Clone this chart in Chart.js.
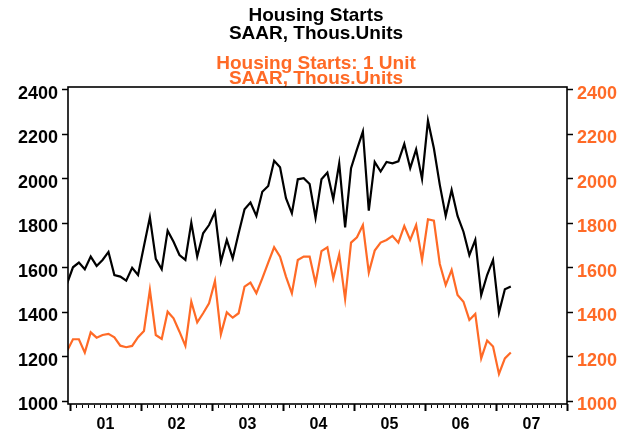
<!DOCTYPE html>
<html>
<head>
<meta charset="utf-8">
<script src="https://cdn.jsdelivr.net/npm/chart.js@4.4.1/dist/chart.umd.min.js"></script>
<style>
  html, body { margin: 0; padding: 0; background: #fff; }
  #wrap { width: 628px; height: 432px; }
</style>
</head>
<body>
<div id="wrap"><canvas id="chart" width="628" height="432"></canvas></div>
<script>
// monthly, Dec 2000 .. Mar 2007 (first point sits just left of the frame)
const firstYear = 2000, firstMonth = 12;

const totalStarts = [
  1528,
  1602, 1623, 1593, 1650, 1608, 1635, 1671, 1567, 1560, 1542, 1600, 1567,
  1698, 1827, 1640, 1593, 1767, 1717, 1657, 1635, 1803, 1650, 1755, 1792,
  1851, 1627, 1725, 1642, 1755, 1863, 1893, 1833, 1942, 1968, 2081, 2052,
  1913, 1845, 1998, 2003, 1977, 1825, 1998, 2028, 1908, 2070, 1782, 2048,
  2133, 2213, 1857, 2076, 2033, 2076, 2070, 2079, 2157, 2048, 2133, 2000,
  2262, 2138, 1973, 1833, 1950, 1833, 1762, 1657, 1725, 1477, 1567, 1635,
  1398, 1503, 1515
];

const singleUnit = [
  1225,
  1278, 1278, 1218, 1309, 1285, 1297, 1302, 1287, 1249, 1242, 1248, 1287,
  1315, 1500, 1297, 1279, 1402, 1372, 1312, 1248, 1447, 1354, 1395, 1440,
  1540, 1300, 1399, 1375, 1395, 1515, 1533, 1485, 1552, 1623, 1692, 1650,
  1560, 1485, 1635, 1650, 1650, 1530, 1675, 1692, 1552, 1660, 1459, 1713,
  1737, 1792, 1578, 1677, 1713, 1725, 1743, 1713, 1788, 1725, 1792, 1635,
  1818, 1812, 1617, 1522, 1590, 1477, 1447, 1365, 1392, 1192, 1272, 1245,
  1122, 1192, 1218
];

const yearLabels = ['01', '02', '03', '04', '05', '06', '07'];
const yTicks = [1000, 1200, 1400, 1600, 1800, 2000, 2200, 2400];

const BLACK = '#000000';
const ORANGE = '#ff6a26';
const FONT = '"Liberation Sans", Arial, Helvetica, sans-serif';

// x = months since Jan 2001, plotted mid-month
function monthPos(i) {
  const m = (firstYear - 2001) * 12 + (firstMonth - 1) + i;
  return m + 0.5;
}
const toPoints = arr => arr.map((v, i) => ({ x: monthPos(i), y: v }));

// title block + frame + monthly tick marks
const decor = {
  id: 'decor',
  afterDraw(chart) {
    const ctx = chart.ctx;
    const a = chart.chartArea;
    const cx = 316;
    ctx.save();
    ctx.textAlign = 'center';
    ctx.textBaseline = 'alphabetic';
    ctx.font = 'bold 19px ' + FONT;
    ctx.fillStyle = BLACK;
    ctx.fillText('Housing Starts', cx, 21);
    ctx.fillText('SAAR, Thous.Units', cx, 38.5);
    ctx.fillStyle = ORANGE;
    ctx.fillText('Housing Starts: 1 Unit', cx, 68.5);
    ctx.fillText('SAAR, Thous.Units', cx, 83.5);

    ctx.strokeStyle = BLACK;
    ctx.lineWidth = 1.6;
    ctx.strokeRect(a.left, a.top, a.right - a.left, a.bottom - a.top);

    const xs = chart.scales.x;
    for (let m = 0; m <= 84; m++) {
      const px = Math.round(xs.getPixelForValue(m)) + 0.5;
      const major = m % 12 === 0;
      ctx.lineWidth = major ? 2 : 1;
      ctx.beginPath();
      ctx.moveTo(px, a.bottom + (major ? 0 : 1));
      ctx.lineTo(px, a.bottom + (major ? 7 : 4));
      ctx.stroke();
    }
    ctx.restore();
  }
};

const yAxis = (position, color) => ({
  type: 'linear',
  position,
  min: 986.5,
  max: 2413.5,
  afterBuildTicks: s => { s.ticks = yTicks.map(v => ({ value: v })); },
  afterFit: s => { s.width = position === 'left' ? 68 : 61; },
  border: { display: false },
  grid: { drawOnChartArea: false, drawTicks: true, tickLength: 6, tickColor: BLACK, tickWidth: 1.5 },
  ticks: {
    color,
    padding: 4,
    labelOffset: 4,
    font: { family: FONT, size: 18, weight: 'bold' },
    callback: v => String(v)
  }
});

new Chart(document.getElementById('chart'), {
  type: 'line',
  data: {
    datasets: [
      {
        label: 'Housing Starts',
        data: toPoints(totalStarts),
        borderColor: BLACK,
        borderWidth: 2.2,
        pointRadius: 0,
        tension: 0,
        yAxisID: 'y',
        clip: 0
      },
      {
        label: 'Housing Starts: 1 Unit',
        data: toPoints(singleUnit),
        borderColor: ORANGE,
        borderWidth: 2.2,
        pointRadius: 0,
        tension: 0,
        yAxisID: 'y1',
        clip: 0
      }
    ]
  },
  options: {
    responsive: false,
    animation: false,
    devicePixelRatio: 1,
    layout: { padding: { top: 87, left: 0, right: 0, bottom: 0 } },
    plugins: { legend: { display: false }, tooltip: { enabled: false }, title: { display: false } },
    scales: {
      x: {
        type: 'linear',
        min: -0.34,
        max: 84,
        afterBuildTicks: s => {
          const t = [];
          for (let m = 0; m <= 84; m++) t.push({ value: m });
          s.ticks = t;
        },
        afterFit: s => { s.height = 28; },
        border: { display: false },
        grid: { display: false },
        ticks: {
          autoSkip: false,
          maxRotation: 0,
          padding: 3,
          color: BLACK,
          font: { family: FONT, size: 16, weight: 'bold' },
          callback: v => (v % 12 === 6 ? yearLabels[(v - 6) / 12] : '')
        }
      },
      y: yAxis('left', BLACK),
      y1: yAxis('right', ORANGE)
    }
  },
  plugins: [decor]
});
</script>
</body>
</html>
